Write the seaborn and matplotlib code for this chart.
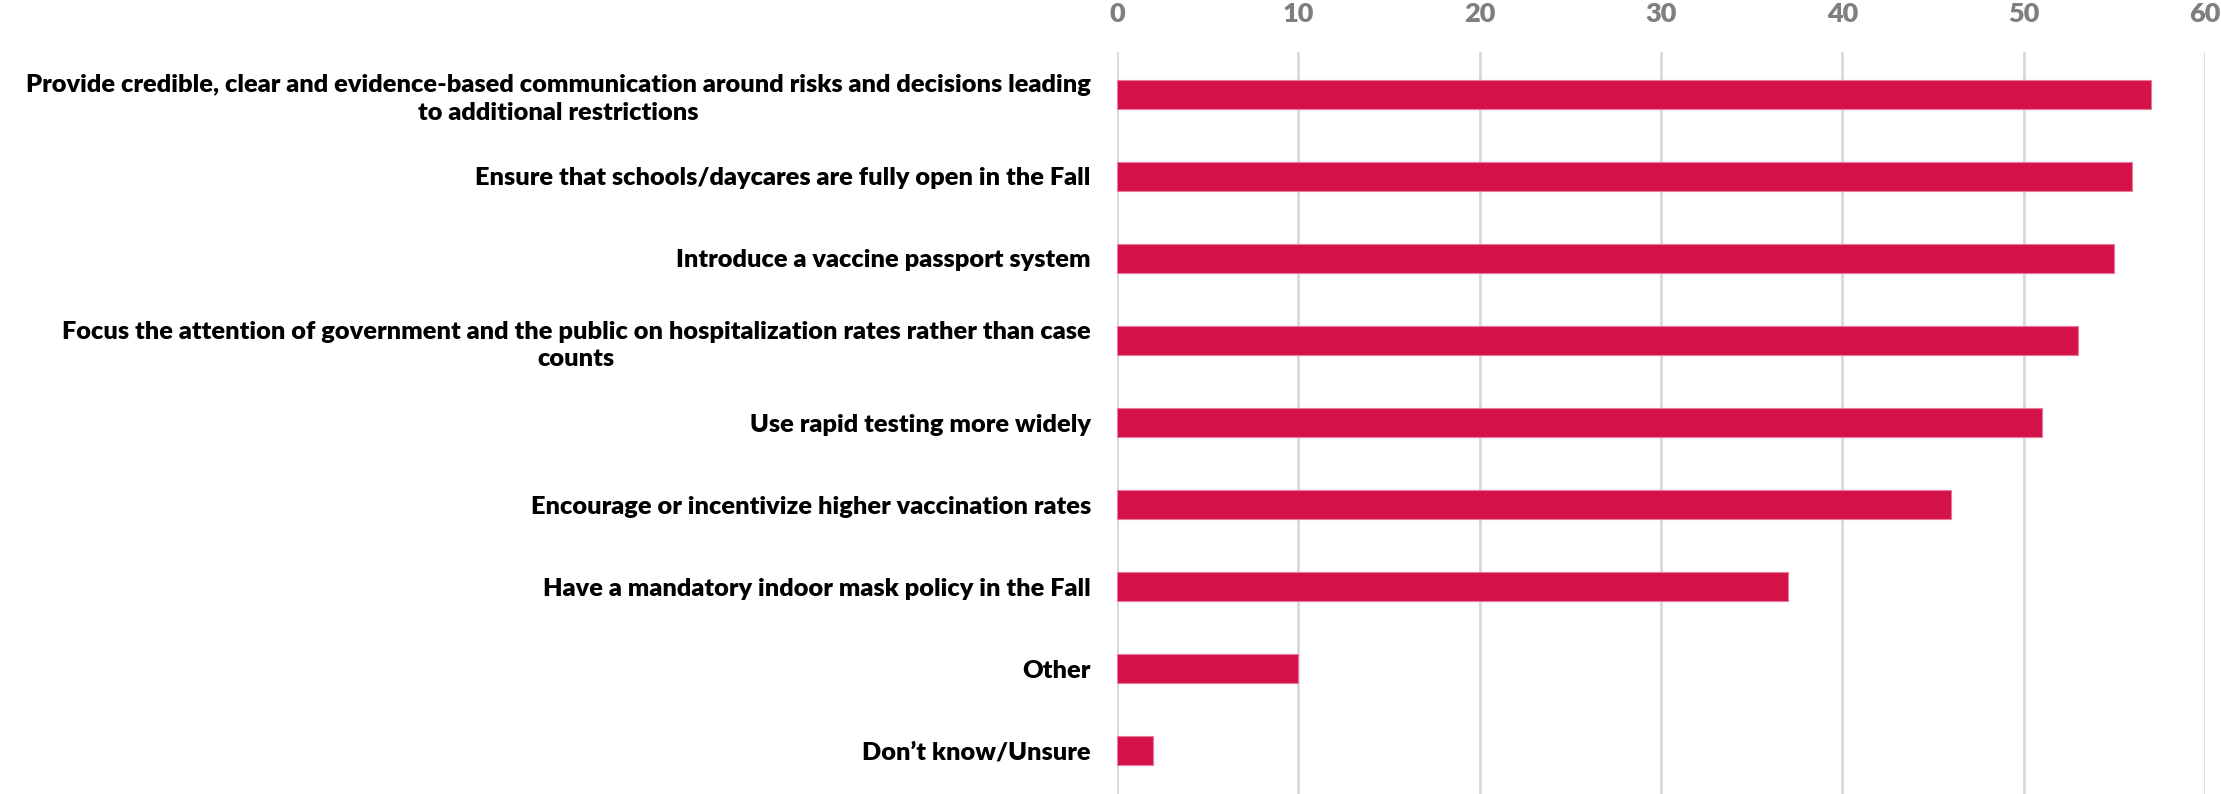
import matplotlib.pyplot as plt
import pandas as pd
import seaborn as sns

categories = [
    'Provide credible, clear and evidence-based communication around risks and decisions leading\nto additional restrictions',
    'Ensure that schools/daycares are fully open in the Fall',
    'Introduce a vaccine passport system',
    'Focus the attention of government and the public on hospitalization rates rather than case\ncounts',
    'Use rapid testing more widely',
    'Encourage or incentivize higher vaccination rates',
    'Have a mandatory indoor mask policy in the Fall',
    'Other',
    'Don\u2019t know/Unsure',
]
values = [57, 56, 55, 53, 51, 46, 37, 10, 2]
x_ticks = [0, 10, 20, 30, 40, 50, 60]

data = pd.DataFrame({'option': categories, 'pct': values})

sns.set_style('white')
plt.rcParams['font.family'] = ['Lato', 'DejaVu Sans']

fig = plt.figure(figsize=(22.21, 7.94), dpi=100)
ax = fig.add_axes([0.503, 0.0, 0.4898, 0.9345])

sns.barplot(data=data, x='pct', y='option', orient='h', color='#D4124A',
            width=0.35, edgecolor='#E8799A', linewidth=0.8, saturation=1, ax=ax)

ax.set_xlim(0, 60)
ax.set_ylim(8.53, -0.518)
ax.set_xticks(x_ticks)
ax.xaxis.tick_top()
ax.tick_params(axis='x', length=0, pad=19, labelsize=19.5, labelcolor='#7F7F7F')
ax.tick_params(axis='y', length=0, pad=19, labelsize=18.3, labelcolor='black')
for lbl in ax.get_xticklabels():
    lbl.set_fontweight('heavy')
for lbl in ax.get_yticklabels():
    lbl.set_fontweight('heavy')
    lbl.set_multialignment('center')
    lbl.set_linespacing(1.28)

ax.grid(axis='x', color='#D9D9D9', linewidth=2)
ax.set_axisbelow(True)
for s in ax.spines.values():
    s.set_visible(False)
ax.set_xlabel('')
ax.set_ylabel('')

fig.savefig('out.png', dpi=100)
